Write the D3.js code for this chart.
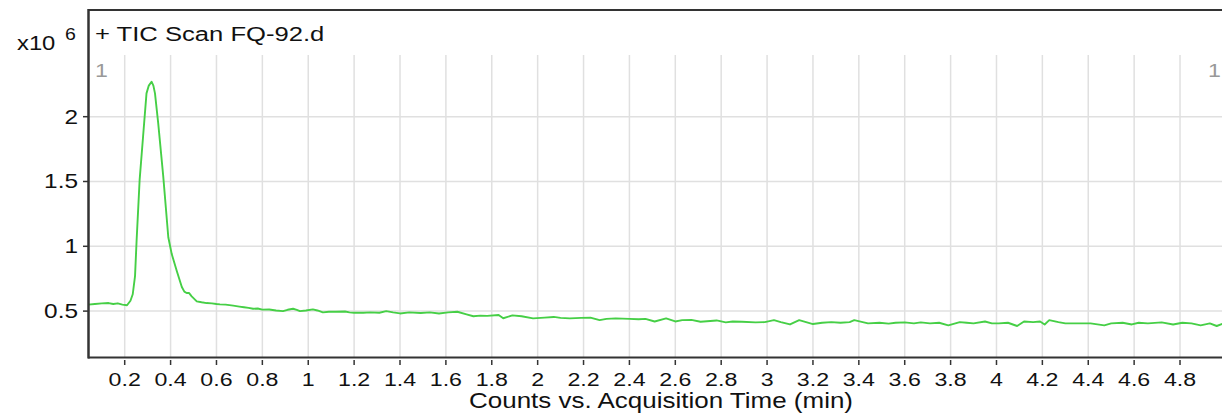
<!DOCTYPE html>
<html>
<head>
<meta charset="utf-8">
<script src="https://cdn.jsdelivr.net/npm/d3@7"></script>
<style>
  body { margin: 0; background: #fff; }
  svg { display: block; font-family: "Liberation Sans", Arial, sans-serif; }
</style>
</head>
<body>
<div id="chart"></div>
<script>
// acquisition time (min) and counts (x10^6)
var times = [0.04, 0.07, 0.10, 0.13, 0.15, 0.17, 0.19, 0.21, 0.225, 0.235, 0.245, 0.252, 0.265, 0.28, 0.295,
  0.305, 0.317, 0.325, 0.332, 0.346, 0.368, 0.39, 0.405, 0.427, 0.449, 0.46, 0.47, 0.48, 0.492, 0.514,
  0.535, 0.557, 0.58, 0.60, 0.615, 0.64, 0.673, 0.70, 0.72, 0.74, 0.76, 0.78, 0.80, 0.83, 0.86, 0.89,
  0.91, 0.934, 0.95, 0.964, 0.99, 1.02, 1.04, 1.064, 1.09, 1.12, 1.16, 1.18, 1.20, 1.24, 1.27, 1.31,
  1.34, 1.37, 1.40, 1.44, 1.49, 1.53, 1.57, 1.61, 1.65, 1.69, 1.72, 1.75, 1.78, 1.83, 1.85, 1.89, 1.93,
  1.98, 2.03, 2.07, 2.10, 2.14, 2.19, 2.23, 2.27, 2.30, 2.34, 2.40, 2.44, 2.47, 2.51, 2.56, 2.60, 2.63,
  2.67, 2.71, 2.78, 2.82, 2.85, 2.89, 2.95, 2.99, 3.03, 3.06, 3.10, 3.14, 3.17, 3.20, 3.24, 3.28, 3.32,
  3.36, 3.38, 3.44, 3.49, 3.53, 3.56, 3.60, 3.64, 3.67, 3.71, 3.75, 3.79, 3.84, 3.87, 3.90, 3.95, 3.98,
  4.01, 4.05, 4.09, 4.12, 4.16, 4.19, 4.21, 4.23, 4.27, 4.30, 4.35, 4.41, 4.47, 4.50, 4.55, 4.59, 4.62,
  4.66, 4.72, 4.77, 4.81, 4.85, 4.89, 4.93, 4.96, 4.99];
var counts = [0.55, 0.555, 0.56, 0.562, 0.555, 0.56, 0.55, 0.545, 0.58, 0.63, 0.77, 1.05, 1.51, 1.845, 2.18,
  2.24, 2.27, 2.24, 2.18, 1.95, 1.54, 1.07, 0.94, 0.81, 0.686, 0.65, 0.64, 0.64, 0.614, 0.575,
  0.568, 0.562, 0.56, 0.555, 0.552, 0.55, 0.542, 0.535, 0.53, 0.525, 0.518, 0.52, 0.511, 0.512, 0.505, 0.50,
  0.51, 0.518, 0.51, 0.50, 0.505, 0.513, 0.505, 0.49, 0.495, 0.495, 0.497, 0.49, 0.487, 0.487, 0.49, 0.487,
  0.50, 0.49, 0.482, 0.49, 0.485, 0.49, 0.482, 0.49, 0.495, 0.475, 0.46, 0.465, 0.463, 0.47, 0.445, 0.467, 0.46,
  0.444, 0.45, 0.455, 0.448, 0.444, 0.448, 0.45, 0.43, 0.44, 0.444, 0.44, 0.437, 0.44, 0.42, 0.444, 0.42, 0.43,
  0.432, 0.418, 0.428, 0.413, 0.42, 0.418, 0.413, 0.415, 0.43, 0.415, 0.397, 0.43, 0.415, 0.40, 0.41, 0.415, 0.41,
  0.415, 0.43, 0.405, 0.41, 0.403, 0.41, 0.413, 0.405, 0.413, 0.405, 0.41, 0.39, 0.415, 0.41, 0.405, 0.42, 0.405,
  0.405, 0.41, 0.385, 0.42, 0.415, 0.42, 0.397, 0.43, 0.415, 0.405, 0.405, 0.405, 0.39, 0.405, 0.41, 0.397, 0.41,
  0.405, 0.413, 0.397, 0.41, 0.405, 0.39, 0.405, 0.385, 0.405];
var xTicks = [0.2, 0.4, 0.6, 0.8, 1, 1.2, 1.4, 1.6, 1.8, 2, 2.2, 2.4, 2.6, 2.8, 3, 3.2, 3.4, 3.6, 3.8,
  4, 4.2, 4.4, 4.6, 4.8];
var yTicks = [0.5, 1, 1.5, 2];
var title = "+ TIC Scan FQ-92.d";
var xTitle = "Counts vs. Acquisition Time (min)";

var W = 1222, H = 414;
var left = 88, right = 1222, topY = 10, gridTop = 55, bottom = 357.5;
var sx = 1.22; // text in the picture is stretched sideways

var svg = d3.select("#chart").append("svg")
    .attr("width", W)
    .attr("height", H);

var x = d3.scaleLinear().domain([0.04, 4.983]).range([left, right]);
var y = d3.scaleLinear().domain([0.142, 2.476]).range([bottom, gridTop]);

// grid
svg.append("g").selectAll("line")
    .data(xTicks)
    .enter().append("line")
    .attr("x1", function(d) { return x(d); })
    .attr("x2", function(d) { return x(d); })
    .attr("y1", gridTop)
    .attr("y2", bottom)
    .attr("stroke", "#e0e0e0")
    .attr("stroke-width", 1.5);

svg.append("g").selectAll("line")
    .data(yTicks)
    .enter().append("line")
    .attr("x1", left)
    .attr("x2", right)
    .attr("y1", function(d) { return y(d); })
    .attr("y2", function(d) { return y(d); })
    .attr("stroke", "#e0e0e0")
    .attr("stroke-width", 1.5);

// segment labels
svg.append("text")
    .attr("transform", "translate(95,77) scale(" + sx + ",1)")
    .attr("font-size", 19)
    .attr("fill", "#999")
    .text("1");
svg.append("text")
    .attr("transform", "translate(1208,77) scale(" + sx + ",1)")
    .attr("font-size", 19)
    .attr("fill", "#999")
    .text("1");

// trace
svg.append("clipPath").attr("id", "clip")
    .append("rect")
    .attr("x", left).attr("y", topY)
    .attr("width", right - left).attr("height", bottom - topY);

var line = d3.line()
    .x(function(d, i) { return x(times[i]); })
    .y(function(d) { return y(d); });

svg.append("path")
    .datum(counts)
    .attr("clip-path", "url(#clip)")
    .attr("d", line)
    .attr("fill", "none")
    .attr("stroke", "#46cf46")
    .attr("stroke-width", 1.9)
    .attr("stroke-linejoin", "round");

// frame
svg.append("line")
    .attr("x1", left).attr("x2", right)
    .attr("y1", topY).attr("y2", topY)
    .attr("stroke", "#333").attr("stroke-width", 2);
svg.append("line")
    .attr("x1", left).attr("x2", right)
    .attr("y1", bottom).attr("y2", bottom)
    .attr("stroke", "#333").attr("stroke-width", 2);
svg.append("line")
    .attr("x1", left + 0.5).attr("x2", left + 0.5)
    .attr("y1", topY - 1).attr("y2", bottom + 1)
    .attr("stroke", "#333").attr("stroke-width", 2.5);

// x axis ticks and labels
var xg = svg.append("g").selectAll("g")
    .data(xTicks)
    .enter().append("g");
xg.append("line")
    .attr("x1", function(d) { return x(d); })
    .attr("x2", function(d) { return x(d); })
    .attr("y1", 360)
    .attr("y2", 365)
    .attr("stroke", "#333")
    .attr("stroke-width", 1.5);
xg.append("text")
    .attr("transform", function(d) { return "translate(" + x(d) + ",386) scale(" + sx + ",1)"; })
    .attr("text-anchor", "middle")
    .attr("font-size", 19)
    .attr("fill", "#111")
    .text(function(d) { return String(d); });

// y axis ticks and labels
var yg = svg.append("g").selectAll("g")
    .data(yTicks)
    .enter().append("g");
yg.append("line")
    .attr("x1", 83)
    .attr("x2", left)
    .attr("y1", function(d) { return y(d); })
    .attr("y2", function(d) { return y(d); })
    .attr("stroke", "#333")
    .attr("stroke-width", 1.5);
yg.append("text")
    .attr("transform", function(d) { return "translate(78," + (y(d) + 7) + ") scale(" + sx + ",1)"; })
    .attr("text-anchor", "end")
    .attr("font-size", 20)
    .attr("fill", "#111")
    .text(function(d) { return String(d); });

// titles
svg.append("text")
    .attr("transform", "translate(95,41) scale(" + sx + ",1)")
    .attr("font-size", 21)
    .attr("fill", "#111")
    .text(title);

svg.append("text")
    .attr("transform", "translate(17,50) scale(" + sx + ",1)")
    .attr("font-size", 19.5)
    .attr("fill", "#111")
    .text("x10");
svg.append("text")
    .attr("transform", "translate(65,40) scale(" + sx + ",1)")
    .attr("font-size", 16)
    .attr("fill", "#111")
    .text("6");

svg.append("text")
    .attr("transform", "translate(661,408) scale(" + sx + ",1)")
    .attr("text-anchor", "middle")
    .attr("font-size", 21.3)
    .attr("fill", "#111")
    .text(xTitle);
</script>
</body>
</html>
